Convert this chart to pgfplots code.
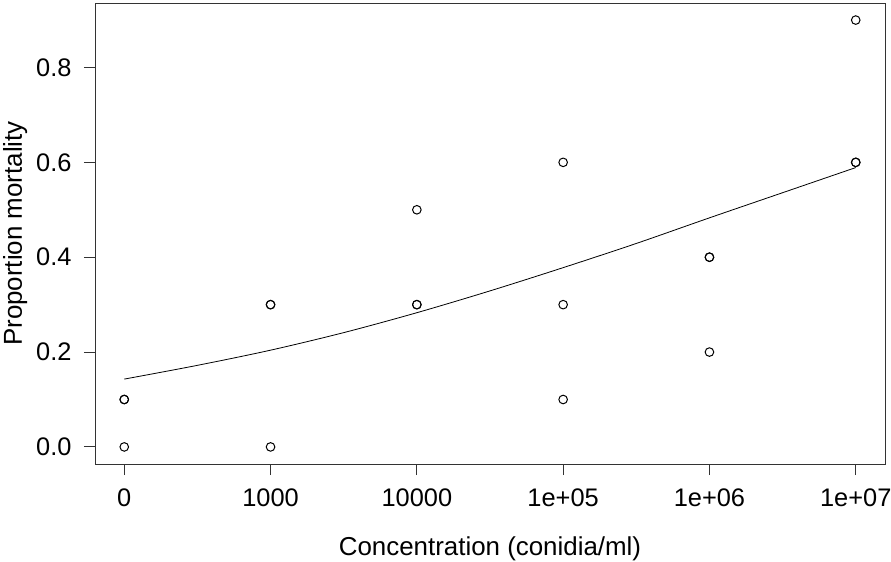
\documentclass[border=0pt]{standalone}
\usepackage{fontspec}
\setmainfont{Liberation Sans}
\usepackage{pgfplots}
\pgfplotsset{compat=1.18}

\begin{document}
\begin{tikzpicture}
\begin{axis}[
  scale only axis,
  width=790bp,height=461bp,
  xmin=-0.2,xmax=5.2,
  ymin=-0.036,ymax=0.936,
  xtick={0,1,2,3,4,5},
  xticklabels={0,1000,10000,1e+05,1e+06,1e+07},
  ytick={0,0.2,0.4,0.6,0.8},
  yticklabels={0.0,0.2,0.4,0.6,0.8},
  xtick pos=bottom, ytick pos=left,
  tick align=outside,
  major tick length=11bp,
  tick style={black!80,line width=0.9bp},
  axis line style={black!80,line width=0.9bp},
  every axis plot/.append style={line width=0.8bp},
  tick label style={font=\fontsize{25.5}{30}\selectfont},
  label style={font=\fontsize{26}{31}\selectfont},
  xticklabel style={yshift=-10bp},
  yticklabel style={xshift=-9bp},
  xlabel={Concentration (conidia/ml)},
  ylabel={Proportion mortality},
  xlabel style={yshift=-23bp},
  ylabel style={yshift=2bp},
]
\coordinate (bl) at (rel axis cs:0,0);
% observed proportions
\addplot[only marks, mark=o, mark size=4.3bp, mark options={line width=1bp}] coordinates {
  (0,0.1) (0,0.0) (0,0.1)
  (1,0.3) (1,0.0) (1,0.3)
  (2,0.5) (2,0.3) (2,0.3)
  (3,0.6) (3,0.3) (3,0.1)
  (4,0.4) (4,0.2) (4,0.4)
  (5,0.9) (5,0.6) (5,0.6)
};
% fitted curve
\addplot[black, smooth] coordinates {
  (0,0.143) (0.5,0.172) (1,0.204) (1.5,0.241) (2,0.283) (2.5,0.329)
  (3,0.378) (3.5,0.429) (4,0.483) (4.5,0.536) (5,0.589)
};
\end{axis}
\pgfresetboundingbox
\path (bl) ++(-95bp,-98bp) rectangle ++(891bp,562bp);
\end{tikzpicture}
\end{document}
